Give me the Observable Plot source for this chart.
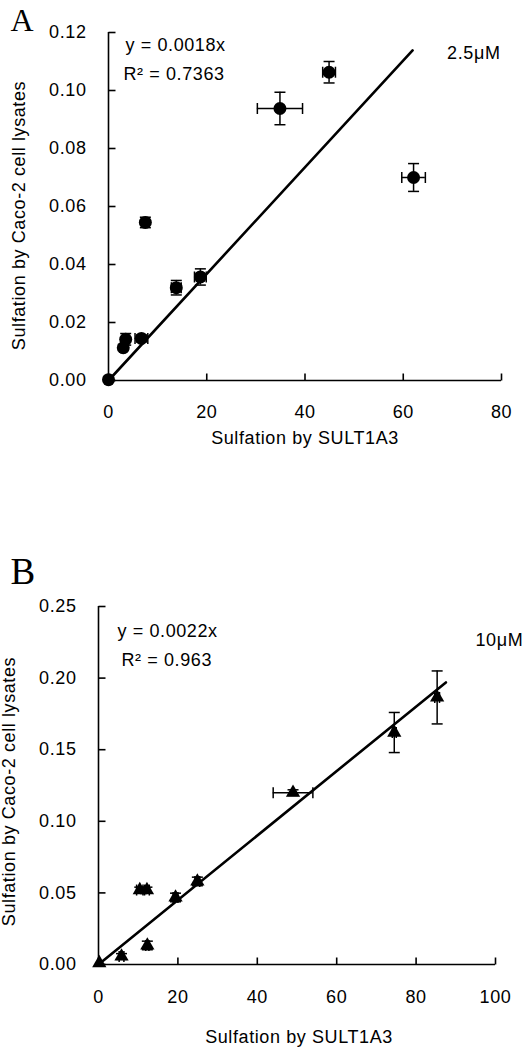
<!DOCTYPE html>
<html>
<head>
<meta charset="utf-8">
<script src="https://cdn.jsdelivr.net/npm/d3@7"></script>
<script src="https://cdn.jsdelivr.net/npm/@observablehq/plot@0.6"></script>
<style>
  html, body { margin: 0; padding: 0; background: #fff; }
  svg { display: block; }
</style>
</head>
<body>
<div id="panelA"></div>
<div id="panelB"></div>
<script>
// ---------- Panel A (2.5 µM) ----------
const xA    = [0.0, 3.0, 3.5, 6.7, 7.5, 13.8, 18.7, 34.9, 44.9, 62.1];
const yA    = [0.0003, 0.0113, 0.0142, 0.0145, 0.0545, 0.0320, 0.0357, 0.0938, 0.1063, 0.0700];
const xErrA = [0, 0.5, 0.6, 1.3, 0.7, 1.0, 1.2, 4.6, 1.3, 2.4];
const yErrA = [0, 0.0010, 0.0020, 0.0012, 0.0018, 0.0025, 0.0028, 0.0056, 0.0037, 0.0048];
const fitXA = [0, 61.9];
const fitYA = [0, 0.1138];
const xTicksA = [0, 20, 40, 60, 80];
const yTicksA = [0, 0.02, 0.04, 0.06, 0.08, 0.10, 0.12];
const eqA = "y = 0.0018x";
const r2A = "R\u00B2 = 0.7363";
const concA = "2.5\u03BCM";

// ---------- Panel B (10 µM) ----------
const xB    = [0.2, 5.8, 10.4, 12.2, 12.3, 19.4, 24.9, 49.0, 74.5, 85.3];
const yB    = [0.001, 0.0056, 0.052, 0.052, 0.0133, 0.0468, 0.058, 0.120, 0.162, 0.1865];
const xErrB = [0, 0.6, 0.8, 0.6, 0.4, 0.6, 0.6, 5.0, 0.5, 0.6];
const yErrB = [0, 0.002, 0.002, 0.002, 0.003, 0.003, 0.003, 0.002, 0.014, 0.0185];
const fitXB = [0, 87.5];
const fitYB = [0, 0.197];
const xTicksB = [0, 20, 40, 60, 80, 100];
const yTicksB = [0, 0.05, 0.10, 0.15, 0.20, 0.25];
const eqB = "y = 0.0022x";
const r2B = "R\u00B2 = 0.963";
const concB = "10\u03BCM";

const xTitle = "Sulfation by SULT1A3";
const yTitle = "Sulfation by Caco-2 cell lysates";

const FONT = "'Liberation Sans', Arial, Helvetica, sans-serif";
const SERIF = "'Liberation Serif', 'Times New Roman', serif";
const FS = 18;

// custom stroke symbols (caps and inward ticks)
const hCap = {draw(ctx) { ctx.moveTo(-5.5, 0); ctx.lineTo(5.5, 0); }};
const vCap = {draw(ctx) { ctx.moveTo(0, -5.5); ctx.lineTo(0, 5.5); }};
const tickUp = {draw(ctx) { ctx.moveTo(0, 0); ctx.lineTo(0, -7); }};
const tickRight = {draw(ctx) { ctx.moveTo(0, 0); ctx.lineTo(7, 0); }};

function table(xs, ys, xe, ye) {
  return xs.map((x, i) => ({x, y: ys[i], xe: xe[i], ye: ye[i]}));
}

function panel(opts) {
  const data = table(opts.xs, opts.ys, opts.xe, opts.ye);
  const xErr = data.filter(d => d.xe > 0);
  const yErr = data.filter(d => d.ye > 0);
  const fit = opts.fitX.map((x, i) => ({x, y: opts.fitY[i]}));
  const pointMark = opts.symbol === "circle"
    ? Plot.dot(data, {x: "x", y: "y", r: 6.5, fill: "black", stroke: "none"})
    : Plot.dot(data, {x: "x", y: "y", symbol: "triangle", r: 5.3, fill: "black", stroke: "none"});
  return Plot.plot({
    width: 531,
    height: opts.height,
    marginLeft: opts.ml, marginRight: opts.mr, marginTop: opts.mt, marginBottom: opts.mb,
    style: {fontFamily: FONT, fontSize: FS + "px", letterSpacing: "0.6px", background: "white", color: "black", overflow: "visible"},
    x: {domain: opts.xDomain},
    y: {domain: opts.yDomain},
    marks: [
      // axis lines
      Plot.ruleX([0], {stroke: "black", strokeWidth: 1.6}),
      Plot.ruleY([0], {stroke: "black", strokeWidth: 1.6}),
      // inward ticks
      Plot.dot(opts.xTicks, {x: d => d, y: () => 0, symbol: tickUp, fill: "none", stroke: "black", strokeWidth: 1.6}),
      Plot.dot(opts.yTicks, {x: () => 0, y: d => d, symbol: tickRight, fill: "none", stroke: "black", strokeWidth: 1.6}),
      // tick labels
      Plot.axisX({ticks: opts.xTicks, tickSize: 0, tickPadding: opts.xPad, tickFormat: d => String(d), label: null, fontSize: FS}),
      Plot.axisY({ticks: opts.yTicks, tickSize: 0, tickPadding: 22, tickFormat: d3.format(".2f"), label: null, fontSize: FS}),
      // regression line
      Plot.line(fit, {x: "x", y: "y", stroke: "black", strokeWidth: 2.6}),
      // error bars
      Plot.ruleY(xErr, {y: "y", x1: d => d.x - d.xe, x2: d => d.x + d.xe, stroke: "black", strokeWidth: 1.5}),
      Plot.dot(xErr, {x: d => d.x - d.xe, y: "y", symbol: vCap, fill: "none", stroke: "black", strokeWidth: 1.5}),
      Plot.dot(xErr, {x: d => d.x + d.xe, y: "y", symbol: vCap, fill: "none", stroke: "black", strokeWidth: 1.5}),
      Plot.ruleX(yErr, {x: "x", y1: d => d.y - d.ye, y2: d => d.y + d.ye, stroke: "black", strokeWidth: 1.5}),
      Plot.dot(yErr, {x: "x", y: d => d.y - d.ye, symbol: hCap, fill: "none", stroke: "black", strokeWidth: 1.5}),
      Plot.dot(yErr, {x: "x", y: d => d.y + d.ye, symbol: hCap, fill: "none", stroke: "black", strokeWidth: 1.5}),
      // points
      pointMark,
      // axis titles
      Plot.text([xTitle], {text: d => d, frameAnchor: "bottom", textAnchor: "middle", dx: opts.xtDx, dy: opts.xtDy, lineAnchor: "middle", fontSize: FS}),
      Plot.text([yTitle], {text: d => d, frameAnchor: "left", textAnchor: "middle", rotate: -90, dx: -89, dy: opts.ytDy, lineAnchor: "middle", fontSize: FS}),
      // annotations
      Plot.text([opts.eq], {text: d => d, frameAnchor: "top-left", textAnchor: "start", lineAnchor: "middle", dx: opts.eqDx, dy: opts.eqDy, fontSize: FS}),
      Plot.text([opts.r2], {text: d => d, frameAnchor: "top-left", textAnchor: "start", lineAnchor: "middle", dx: opts.r2Dx, dy: opts.r2Dy, fontSize: FS}),
      Plot.text([opts.conc], {text: d => d, frameAnchor: "top-right", textAnchor: opts.concAnchor, lineAnchor: "middle", dx: opts.concDx, dy: opts.concDy, fontSize: FS}),
      // panel letter
      Plot.text([opts.letter], {text: d => d, frameAnchor: "top-left", textAnchor: "start", lineAnchor: "top", dx: opts.letDx, dy: opts.letDy, fontFamily: SERIF, fontSize: opts.letSize})
    ]
  });
}

document.getElementById("panelA").append(panel({
  height: 500, ml: 108, mr: 30, mt: 32, mb: 120,
  xDomain: [0, 80], yDomain: [0, 0.12],
  xs: xA, ys: yA, xe: xErrA, ye: yErrA, fitX: fitXA, fitY: fitYA,
  xTicks: xTicksA, yTicks: yTicksA, symbol: "circle", xPad: 25,
  xtDx: 0, xtDy: 58, ytDy: 9,
  eq: eqA, r2: r2A, conc: concA,
  eqDx: 17, eqDy: 13, r2Dx: 15, r2Dy: 42,
  concAnchor: "end", concDx: -1, concDy: 21,
  letter: "A", letDx: -98, letDy: -24, letSize: 32
}));

document.getElementById("panelB").append(panel({
  height: 550, ml: 98, mr: 36, mt: 106, mb: 86,
  xDomain: [0, 100], yDomain: [0, 0.25],
  xs: xB, ys: yB, xe: xErrB, ye: yErrB, fitX: fitXB, fitY: fitYB,
  xTicks: xTicksB, yTicks: yTicksB, symbol: "triangle", xPad: 26,
  xtDx: 2, xtDy: 73, ytDy: 6,
  eq: eqB, r2: r2B, conc: concB,
  eqDx: 19, eqDy: 25, r2Dx: 23, r2Dy: 54,
  concAnchor: "start", concDx: -20, concDy: 34,
  letter: "B", letDx: -88, letDy: -49, letSize: 37
}));
</script>
</body>
</html>
